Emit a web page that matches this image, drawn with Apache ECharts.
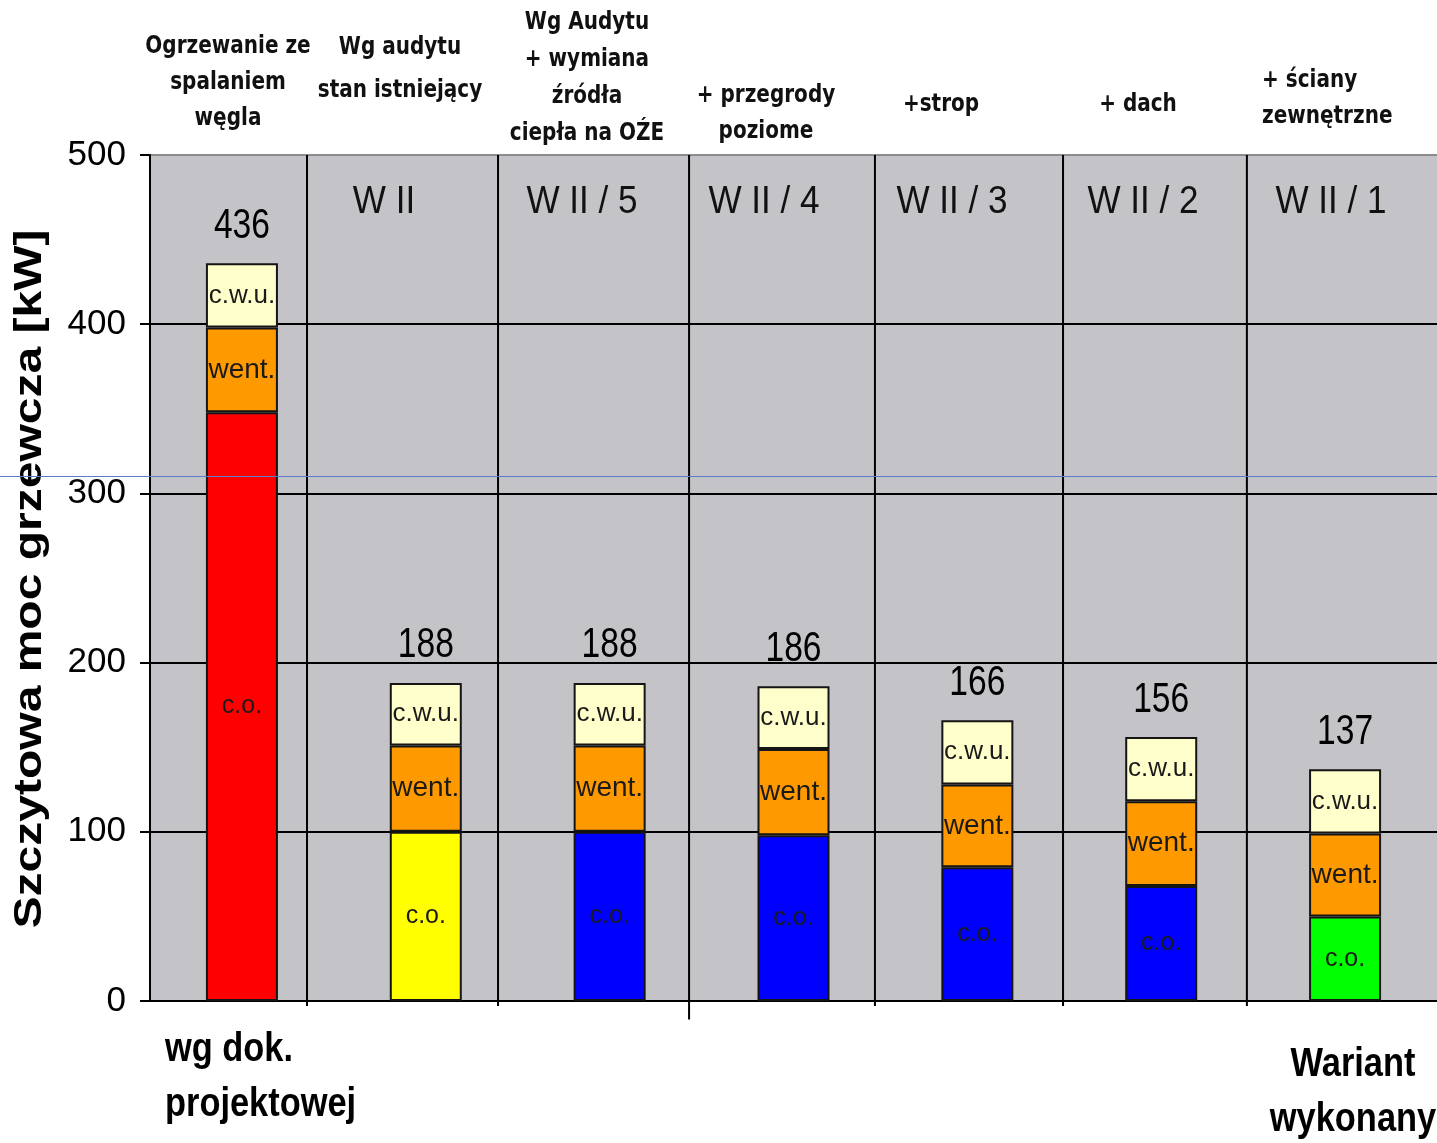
<!DOCTYPE html>
<html>
<head>
<meta charset="utf-8">
<script src="https://cdn.jsdelivr.net/npm/echarts@6/dist/echarts.min.js"></script>
<style>
  html, body { margin: 0; padding: 0; background: #fff; }
  #chart { width: 1437px; height: 1143px; }
</style>
</head>
<body>
<div id="chart"></div>
<script>
// Heating power per variant, split into c.o. / went. / c.w.u. components [kW]
const categories = [
  'Ogrzewanie ze\nspalaniem\nwęgla',
  'Wg audytu\nstan istniejący',
  'Wg Audytu\n+ wymiana\nźródła\nciepła na OŹE',
  '+ przegrody\npoziome',
  '+strop',
  '+ dach',
  '+ ściany\nzewnętrzne'
];
const variants = ['', 'W II', 'W II / 5', 'W II / 4', 'W II / 3', 'W II / 2', 'W II / 1'];
const coValues = [348, 100, 100, 98, 79, 68, 50];
const wentValues = [50, 51, 51, 51, 49, 50, 49];
const cwuValues = [38, 37, 37, 37, 38, 38, 38];
const coColors = ['#FF0000', '#FFFF00', '#0000FF', '#0000FF', '#0000FF', '#0000FF', '#00FF00'];
const yTicks = [0, 100, 200, 300, 400, 500];
// column dividers, in category units along the axis, and how far below 0 each reaches
const dividers = [0.854, 1.893, 2.932, 3.943, 4.966, 5.966];
const dividerDrop = [-3, -3, -11, -3, -3, -3];

const chart = echarts.init(document.getElementById('chart'));

const totals = coValues.map((v, i) => v + wentValues[i] + cwuValues[i]);

const regular = '"Liberation Sans", Arial, sans-serif';
const headerFont = '"DejaVu Sans Condensed", "DejaVu Sans", sans-serif';

const segLabel = (text, size) => ({
  show: true,
  position: 'inside',
  formatter: text,
  color: '#1a1a1a',
  fontFamily: regular,
  fontSize: size,
  fontWeight: 'normal'
});

// header captions above each column
const headerSpec = [
  { x: 228, y: 46, lh: 36, align: 'center' },
  { x: 400, y: 47, lh: 43, align: 'center' },
  { x: 587, y: 22, lh: 37, align: 'center' },
  { x: 766, y: 95, lh: 36, align: 'center' },
  { x: 941, y: 104, lh: 36, align: 'center' },
  { x: 1138, y: 104, lh: 36, align: 'center' },
  { x: 1262, y: 80, lh: 36, align: 'left' }
];
const variantX = [0, 384, 582, 764, 952, 1143, 1331];

const graphics = [];
categories.forEach((txt, i) => {
  const h = headerSpec[i];
  graphics.push({
    type: 'text',
    x: h.x,
    y: h.y - h.lh / 2,
    scaleX: 0.89,
    style: {
      text: txt,
      x: 0, y: 0,
      textAlign: h.align,
      textVerticalAlign: 'top',
      lineHeight: h.lh,
      font: 'bold 25px ' + headerFont,
      fill: '#111'
    }
  });
});
variants.forEach((txt, i) => {
  if (!txt) return;
  graphics.push({
    type: 'text',
    z: 10,
    x: variantX[i],
    y: 202,
    scaleX: 0.9,
    style: {
      text: txt,
      x: 0, y: 0,
      textAlign: 'center',
      textVerticalAlign: 'middle',
      font: '39px ' + regular,
      fill: '#111'
    }
  });
});
graphics.push({
  type: 'text',
  x: 165, y: 1050 - 28,
  scaleX: 0.86,
  style: {
    text: 'wg dok.\nprojektowej',
    x: 0, y: 0,
    textAlign: 'left', textVerticalAlign: 'top',
    lineHeight: 55,
    font: 'bold 40px ' + regular,
    fill: '#000'
  }
});
graphics.push({
  type: 'text',
  x: 1353, y: 1065 - 28,
  scaleX: 0.86,
  style: {
    text: 'Wariant\nwykonany',
    x: 0, y: 0,
    textAlign: 'center', textVerticalAlign: 'top',
    lineHeight: 55,
    font: 'bold 40px ' + regular,
    fill: '#000'
  }
});
// axis title, rotated
graphics.push({
  type: 'text',
  x: 30, y: 579,
  rotation: Math.PI / 2,
  scaleY: 0.8,
  style: {
    text: 'Szczytowa moc grzewcza [kW]',
    x: 0, y: 0,
    textAlign: 'center', textVerticalAlign: 'middle',
    font: 'bold 48px ' + regular,
    fill: '#000'
  }
});
graphics.push({
  type: 'line',
  z: 100,
  shape: { x1: 0, y1: 476.5, x2: 1437, y2: 476.5 },
  style: { stroke: '#5a7cc6', lineWidth: 1 }
});

const option = {
  animation: false,
  backgroundColor: '#ffffff',
  grid: {
    left: 150, right: 0, top: 155, bottom: 142,
    show: true, backgroundColor: '#C4C3C7', borderWidth: 0
  },
  xAxis: [
    {
      type: 'category',
      data: variants,
      axisLine: { show: true, lineStyle: { color: '#000', width: 2 } },
      axisTick: { show: false },
      axisLabel: { show: false },
      splitLine: { show: false }
    },
    {
      type: 'value',
      min: 0, max: 7,
      show: false
    }
  ],
  yAxis: {
    type: 'value',
    min: yTicks[0],
    max: yTicks[yTicks.length - 1],
    interval: 100,
    axisLine: { show: true, lineStyle: { color: '#000', width: 2 } },
    axisTick: { show: true, length: 10, lineStyle: { color: '#000', width: 2 } },
    axisLabel: { fontFamily: regular, fontSize: 35, color: '#000', margin: 24 },
    splitLine: {
      show: true,
      lineStyle: { color: ['#000', '#000', '#000', '#000', '#000', '#8c8c8c'], width: 2 }
    }
  },
  series: [
    {
      name: 'c.o.',
      type: 'bar',
      stack: 'moc',
      barWidth: 72,
      data: coValues.map((v, i) => ({ value: v, itemStyle: { color: coColors[i] } })),
      itemStyle: { borderColor: '#151515', borderWidth: 2 },
      label: segLabel('c.o.', 25)
    },
    {
      name: 'went.',
      type: 'bar',
      stack: 'moc',
      barWidth: 72,
      data: wentValues,
      itemStyle: { color: '#FF9900', borderColor: '#151515', borderWidth: 2 },
      label: segLabel('went.', 28)
    },
    {
      name: 'c.w.u.',
      type: 'bar',
      stack: 'moc',
      barWidth: 72,
      data: cwuValues,
      itemStyle: { color: '#FFFFCC', borderColor: '#151515', borderWidth: 2 },
      label: segLabel('c.w.u.', 26)
    },
    {
      // totals written above each stack
      name: 'suma',
      type: 'custom',
      xAxisIndex: 0,
      yAxisIndex: 0,
      silent: true,
      clip: false,
      z: 5,
      data: totals.map((t, i) => [i, t]),
      renderItem: (params, api) => {
        const p = api.coord([api.value(0), api.value(1)]);
        return {
          type: 'text',
          x: p[0],
          y: p[1] - 37,
          scaleX: 0.8,
          style: {
            text: String(api.value(1)),
            x: 0, y: 0,
            textAlign: 'center',
            textVerticalAlign: 'middle',
            font: '42px ' + regular,
            fill: '#000'
          }
        };
      }
    },
    {
      // vertical column dividers
      name: 'podział',
      type: 'custom',
      xAxisIndex: 1,
      yAxisIndex: 0,
      silent: true,
      clip: false,
      z: 1,
      data: dividers.map((d, i) => [d, dividerDrop[i]]),
      renderItem: (params, api) => {
        const x = api.value(0);
        const p0 = api.coord([x, api.value(1)]);
        const p1 = api.coord([x, yTicks[yTicks.length - 1]]);
        return {
          type: 'line',
          shape: { x1: p0[0], y1: p0[1], x2: p1[0], y2: p1[1] },
          style: { stroke: '#000', lineWidth: 2 }
        };
      }
    }
  ],
  graphic: graphics
};

chart.setOption(option);
</script>
</body>
</html>
